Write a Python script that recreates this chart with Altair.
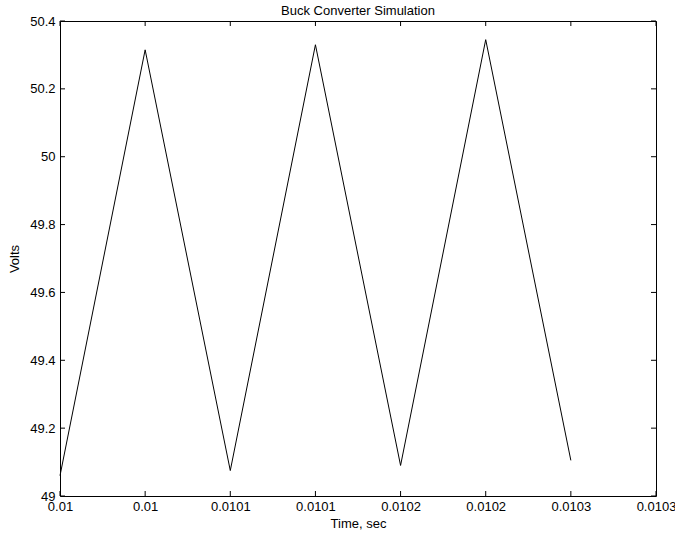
import altair as alt
import pandas as pd

# ---- data ----
time = [0.01, 0.01005, 0.0101, 0.01015, 0.0102, 0.01025, 0.0103]
volts = [49.06, 50.315, 49.075, 50.33, 49.09, 50.345, 49.105]

x_ticks = [0.01, 0.01005, 0.0101, 0.01015, 0.0102, 0.01025, 0.0103, 0.01035]
x_tick_labels = ["0.01", "0.01", "0.0101", "0.0101", "0.0102", "0.0102", "0.0103", "0.0103"]
y_ticks = [49.0, 49.2, 49.4, 49.6, 49.8, 50.0, 50.2, 50.4]

W, H = 596, 475
FONT = "Liberation Sans"
TICK = 5

line_df = pd.DataFrame({"time": time, "volts": volts})
xt_df = pd.DataFrame({"time": x_ticks})
yt_df = pd.DataFrame({"volts": y_ticks})

x0 = x_ticks[0]
step = x_ticks[1] - x_ticks[0]
label_expr = "[" + ",".join(f"'{l}'" for l in x_tick_labels) + "]" + \
    f"[round((datum.value - {x0}) / {step})]"

x_scale = alt.Scale(domain=[x_ticks[0], x_ticks[-1]], nice=False, zero=False)
y_scale = alt.Scale(domain=[y_ticks[0], y_ticks[-1]], nice=False, zero=False)

x_axis = alt.Axis(values=x_ticks, labelExpr=label_expr, title="Time, sec",
                  labelPadding=4, titlePadding=4, labelFlush=False)
y_axis = alt.Axis(values=y_ticks, format=".1~f", title="Volts",
                  labelPadding=5, titlePadding=8)

X = alt.X("time:Q", scale=x_scale, axis=x_axis)
Y = alt.Y("volts:Q", scale=y_scale, axis=y_axis)

line = alt.Chart(line_df).mark_line(color="black", strokeWidth=1).encode(x=X, y=Y)

bottom_ticks = alt.Chart(xt_df).mark_rule(color="black", strokeWidth=1).encode(
    x=X, y=alt.value(H), y2=alt.value(H - TICK))
top_ticks = alt.Chart(xt_df).mark_rule(color="black", strokeWidth=1).encode(
    x=X, y=alt.value(0), y2=alt.value(TICK))
left_ticks = alt.Chart(yt_df).mark_rule(color="black", strokeWidth=1).encode(
    y=Y, x=alt.value(0), x2=alt.value(TICK))
right_ticks = alt.Chart(yt_df).mark_rule(color="black", strokeWidth=1).encode(
    y=Y, x=alt.value(W - TICK), x2=alt.value(W))

chart = alt.layer(line, bottom_ticks, top_ticks, left_ticks, right_ticks).properties(
    width=W, height=H,
    title=alt.TitleParams("Buck Converter Simulation", fontSize=13, fontWeight="normal",
                          font=FONT, color="black", anchor="middle", offset=-3),
    autosize=alt.AutoSizeParams(type="none"),
    padding={"left": 60, "top": 21, "right": 19, "bottom": 39},
    background="white",
).configure_view(
    stroke="black", strokeWidth=1
).configure_axis(
    grid=False, ticks=False, domain=False,
    labelFont=FONT, labelFontSize=13, labelColor="black",
    titleFont=FONT, titleFontSize=13, titleFontWeight="normal", titleColor="black",
)

chart.save("out.html", embed_options={"renderer": "svg", "actions": False})
